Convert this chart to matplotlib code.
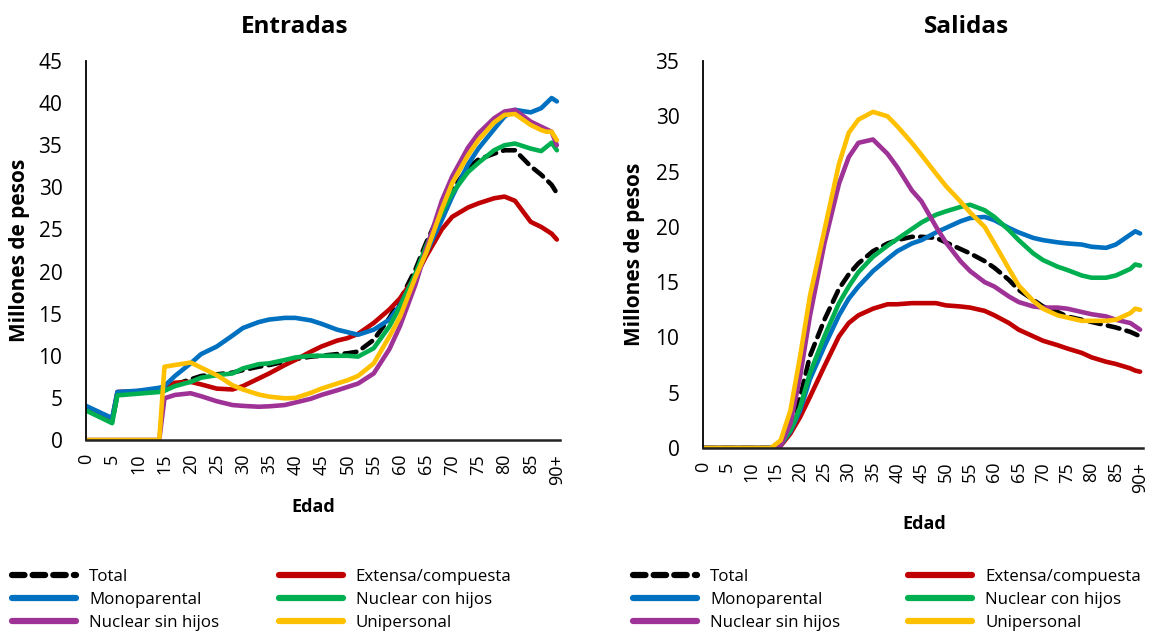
import matplotlib
matplotlib.use('Agg')
import matplotlib.pyplot as plt
from matplotlib.lines import Line2D

plt.rcParams['font.family'] = ['Open Sans', 'DejaVu Sans']

### Datos - Entradas (millones de pesos por edad)

edad_e = [0, 5, 6, 10, 14, 15, 17, 20, 22, 25, 28, 30, 33, 35, 38, 40, 43, 45, 48, 50,
          52, 55, 58, 60, 63, 65, 68, 70, 73, 75, 78, 80, 82, 85, 87, 88, 89, 90]

total_e = [3.7, 2.2, 5.4, 5.6, 5.8, 5.9, 6.6, 7.2, 7.6, 7.8, 8.0, 8.3, 8.7, 8.9, 9.3, 9.6, 9.9, 10.0, 10.2, 10.3,
           10.5, 11.9, 14.5, 16.6, 20.3, 23.4, 27.4, 29.7, 32.3, 33.3, 34.0, 34.4, 34.4, 32.5, 31.5, 30.9, 30.3, 29.3]
extensa_e = [3.9, 2.4, 5.7, 5.8, 6.0, 6.2, 6.8, 6.9, 6.6, 6.1, 6.0, 6.4, 7.3, 7.9, 8.9, 9.5, 10.5, 11.1, 11.8, 12.1,
             12.6, 13.9, 15.5, 16.8, 19.4, 21.8, 25.0, 26.5, 27.6, 28.1, 28.7, 28.9, 28.4, 25.9, 25.3, 24.9, 24.5, 23.8]
monop_e = [4.05, 2.6, 5.7, 5.85, 6.2, 6.4, 7.6, 9.1, 10.2, 11.1, 12.4, 13.3, 14.0, 14.3, 14.5, 14.5, 14.2, 13.8, 13.1, 12.8,
           12.5, 13.1, 14.3, 16.0, 19.5, 22.2, 26.1, 28.9, 32.7, 34.6, 36.9, 38.4, 39.2, 38.9, 39.4, 40.0, 40.6, 40.2]
nuc_con_e = [3.5, 2.0, 5.3, 5.5, 5.7, 5.85, 6.4, 6.9, 7.4, 7.7, 7.9, 8.5, 9.0, 9.1, 9.5, 9.8, 10.0, 10.0, 10.0, 10.0,
             9.9, 10.9, 13.5, 15.8, 19.8, 23.0, 27.0, 29.3, 31.8, 32.9, 34.4, 35.0, 35.2, 34.6, 34.3, 34.8, 35.3, 34.4]
nuc_sin_e = [0, 0, 0, 0, 0, 4.95, 5.35, 5.55, 5.2, 4.6, 4.15, 4.05, 3.95, 4.0, 4.15, 4.45, 4.9, 5.35, 5.9, 6.3,
             6.7, 7.9, 10.8, 13.5, 18.5, 22.6, 28.4, 31.3, 34.7, 36.4, 38.2, 39.0, 39.2, 37.8, 37.2, 36.9, 36.6, 35.0]
unip_e = [0, 0, 0, 0, 0, 8.7, 8.9, 9.2, 8.6, 7.7, 6.5, 6.0, 5.4, 5.15, 4.95, 5.0, 5.6, 6.1, 6.7, 7.1,
          7.6, 9.1, 12.3, 14.6, 19.4, 22.2, 27.4, 30.5, 33.8, 35.6, 37.7, 38.6, 38.7, 37.4, 36.8, 36.6, 36.6, 35.6]

### Datos - Salidas

edad_s = [0, 14, 16, 18, 20, 22, 25, 28, 30, 32, 35, 38, 40, 43, 45, 48, 50, 53, 55, 58,
          60, 63, 65, 68, 70, 73, 75, 78, 80, 83, 85, 88, 89, 90]

total_s = [0, 0, 0.3, 1.9, 4.6, 8.3, 11.6, 14.4, 15.7, 16.7, 17.8, 18.5, 18.8, 19.1, 19.1, 19.0, 18.6, 18.0, 17.6, 16.9,
           16.3, 15.2, 14.3, 13.4, 12.8, 12.3, 11.9, 11.6, 11.4, 11.1, 10.9, 10.5, 10.3, 10.1]
extensa_s = [0, 0, 0.2, 1.3, 2.8, 4.6, 7.4, 10.1, 11.3, 12.0, 12.6, 13.0, 13.0, 13.1, 13.1, 13.1, 12.9, 12.8, 12.7, 12.4,
             12.0, 11.3, 10.7, 10.1, 9.7, 9.3, 9.0, 8.6, 8.2, 7.8, 7.6, 7.2, 7.0, 6.9]
monop_s = [0, 0, 0.3, 1.5, 3.4, 6.2, 9.2, 12.0, 13.5, 14.6, 16.0, 17.1, 17.8, 18.5, 18.8, 19.5, 19.9, 20.5, 20.8, 20.9,
           20.6, 19.9, 19.5, 19.0, 18.8, 18.6, 18.5, 18.4, 18.2, 18.1, 18.4, 19.3, 19.6, 19.4]
nuc_con_s = [0, 0, 0.3, 1.6, 3.7, 6.75, 10.1, 13.1, 14.6, 15.9, 17.3, 18.3, 18.9, 19.8, 20.4, 21.1, 21.4, 21.8, 22.0, 21.5,
             20.9, 19.7, 18.8, 17.6, 17.0, 16.4, 16.1, 15.6, 15.4, 15.4, 15.6, 16.2, 16.6, 16.5]
nuc_sin_s = [0, 0, 0.2, 2.2, 6.5, 11.9, 18.5, 23.9, 26.3, 27.6, 27.9, 26.6, 25.4, 23.3, 22.3, 20.0, 18.6, 16.9, 16.0, 15.0,
             14.6, 13.7, 13.2, 12.8, 12.7, 12.7, 12.6, 12.3, 12.1, 11.9, 11.6, 11.3, 11.0, 10.7]
unip_s = [0, 0, 0.7, 3.4, 8.3, 13.7, 19.7, 25.7, 28.5, 29.7, 30.4, 30.0, 29.1, 27.6, 26.5, 24.8, 23.7, 22.3, 21.3, 20.0,
          18.5, 16.2, 14.7, 13.3, 12.6, 12.0, 11.8, 11.5, 11.5, 11.5, 11.6, 12.2, 12.6, 12.5]

ticks = list(range(0, 91, 5))
tick_labels = [str(t) for t in ticks[:-1]] + ['90+']

nombres = ['Total', 'Extensa/compuesta', 'Monoparental', 'Nuclear con hijos', 'Nuclear sin hijos', 'Unipersonal']
colores = ['black', '#C00000', '#0070C0', '#00B050', '#9E3296', '#FFC000']

lw = 3.3

W, H = 1149, 633
fig = plt.figure(figsize=(W/100, H/100), dpi=100)


def dibujar(ax, edad, series, ymax, titulo, xt, xe, ypos_edad):
    for k, (y, c) in enumerate(zip(series, colores)):
        if k == 0:
            ax.plot(edad, y, color=c, lw=lw, linestyle=(0, (2.6, 1.6)), dash_capstyle='round')
        else:
            ax.plot(edad, y, color=c, lw=lw, solid_capstyle='round', solid_joinstyle='round')
    ax.set_xlim(0, 90.6)
    ax.set_ylim(0, ymax)
    ax.set_yticks(range(0, ymax + 1, 5))
    ax.set_xticks(ticks)
    ax.set_xticklabels(tick_labels, rotation=90)
    ax.tick_params(axis='y', length=0, pad=17, labelsize=15)
    ax.tick_params(axis='x', length=0, pad=10, labelsize=13)
    for s in ['top', 'right']:
        ax.spines[s].set_visible(False)
    ax.spines['left'].set_color('black')
    ax.spines['bottom'].set_color('#222222')
    ax.spines['left'].set_linewidth(1.3)
    ax.spines['bottom'].set_linewidth(1.8)
    ax.set_ylabel('Millones de pesos', fontsize=15, fontweight='bold')
    fig.text(xt/W, 1 - 27/H, titulo, ha='center', va='center', fontsize=17.5, fontweight='bold')
    fig.text(xe/W, 1 - ypos_edad/H, 'Edad', ha='center', va='center', fontsize=13, fontweight='bold')


ax1 = fig.add_axes([86/W, 1 - 440/H, 474/W, 379/H])
dibujar(ax1, edad_e, [total_e, extensa_e, monop_e, nuc_con_e, nuc_sin_e, unip_e], 45, 'Entradas', 295, 313, 507)
ax1.yaxis.set_label_coords(-0.118, 0.5)

ax2 = fig.add_axes([703/W, 1 - 448/H, 440/W, 387/H])
dibujar(ax2, edad_s, [total_s, extensa_s, monop_s, nuc_con_s, nuc_sin_s, unip_s], 35, 'Salidas', 967, 924, 524)
ax2.yaxis.set_label_coords(-0.132, 0.5)

# leyendas (orden por columnas)
orden = [0, 2, 4, 1, 3, 5]
handles = []
for i in orden:
    if i == 0:
        h = Line2D([], [], color=colores[i], lw=4.5, linestyle=(0, (2.0, 1.3)), dash_capstyle='round')
    else:
        h = Line2D([], [], color=colores[i], lw=4.5, solid_capstyle='round')
    handles.append(h)
labels = [nombres[i] for i in orden]

for x0, cs in [(12, 3.5), (633, 4.0)]:
    fig.legend(handles, labels, loc='upper left', bbox_to_anchor=(x0/W, 1 - 569/H), ncol=2,
               frameon=False, fontsize=12.2, handlelength=3.8, handletextpad=0.75,
               columnspacing=cs, labelspacing=0.4, borderpad=0, borderaxespad=0)

plt.savefig('out.png', dpi=100)
